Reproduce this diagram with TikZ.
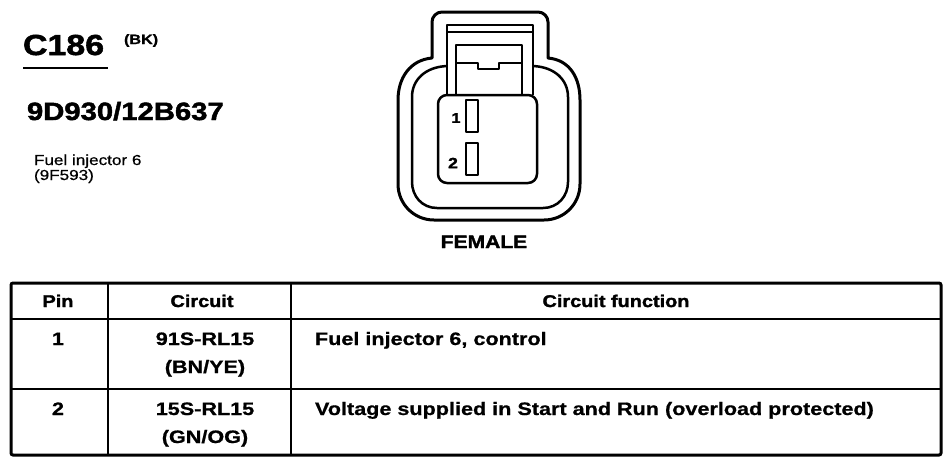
\documentclass[tikz,border=0pt]{standalone}
\usepackage{fontspec}
\setmainfont{Liberation Sans}[FakeStretch=1.18, BoldFont={Liberation Sans}, BoldFeatures={FakeBold=0.6}]
\newfontfamily\bfam{Liberation Sans Bold}[FakeStretch=1.2, BoldFont={Liberation Sans Bold}, BoldFeatures={FakeBold=0.8}]
\newfontfamily\hfam{Liberation Sans Bold}[FakeStretch=1.17, BoldFont={Liberation Sans Bold}, BoldFeatures={FakeBold=1.8}]
\newcommand\fs[1]{\fontsize{#1}{#1}\selectfont}
\begin{document}
\begin{tikzpicture}[x=1pt,y=-1pt,
  outl/.style={line width=3pt, line join=round},
  thin/.style={line width=2.5pt, line join=round},
  tbl/.style={line width=3pt},
  tline/.style={line width=2.6pt},
  txt/.style={inner sep=0pt, outer sep=0pt},
  heavy/.style={txt, font=\hfam\bfseries\fs{#1}},
  bodyb/.style={txt, font=\bfam\bfseries\fs{#1}},
  reg/.style={txt, font=\bfseries\fs{#1}}]
\useasboundingbox[fill=white] (0,0) rectangle (952,467);

% ---- left titles
\node[heavy=29, anchor=base west] (title) at (23,55) {C186};
\draw[line width=2.5pt] (23,68) -- (108,68);
\node[bodyb=13.5, anchor=base west] (bk) at (124,44) {(BK)};
\node[heavy=25, anchor=base west] (part) at (27,120) {9D930/12B637};
\node[reg=14.5, anchor=base west] (desc1) at (34,165) {Fuel injector 6};
\node[reg=14.5, anchor=base west] (desc2) at (34,180) {(9F593)};

% ---- connector
\draw[outl] (432,58) -- (432,22) .. controls (432,16.5) and (436.5,12) .. (442,12)
  -- (538,12) .. controls (543.5,12) and (548,16.5) .. (548,22) -- (548,58)
  .. controls (570,60) and (580,78) .. (580,100) -- (580,184)
  .. controls (580,204) and (564,220) .. (544,220) -- (434,220)
  .. controls (414,220) and (398,204) .. (398,184) -- (398,100)
  .. controls (398,78) and (410,60) .. (432,58) -- cycle;
\draw[thin] (447,66) .. controls (425,67) and (412,80) .. (412,97) -- (412,182)
  .. controls (412,196) and (422,208) .. (437,208) -- (543,208)
  .. controls (558,208) and (568,196) .. (568,182) -- (568,97)
  .. controls (568,80) and (555,67) .. (533,66);
\draw[thin] (447,95) -- (447,25) -- (533,25) -- (533,95);
\draw[thin] (447,32) -- (533,32);
\draw[thin] (456,95) -- (456,45) -- (522,45) -- (522,95);
\draw[thin] (456,63) -- (478,63) -- (478,69) -- (499,69) -- (499,63) -- (522,63);
\draw[thin, fill=white, rounded corners=9pt] (438,95) rectangle (537,183);
\draw[thin] (466,100) rectangle (478,132);
\draw[thin] (466,143) rectangle (478,175);
\node[heavy=14] (p1) at (456,118) {1};
\node[heavy=15] (p2) at (453,163) {2};
\node[heavy=18, anchor=base] (female) at (484,248) {FEMALE};

% ---- table
\draw[tbl, rounded corners=2pt] (11,283) rectangle (941,455);
\draw[tline] (11,319) -- (941,319);
\draw[tline] (11,389) -- (941,389);
\draw[tline] (108,283) -- (108,455);
\draw[tline] (291,283) -- (291,455);

\node[heavy=17, anchor=base] (hpin) at (58,307) {Pin};
\node[heavy=17, anchor=base] (hcirc) at (202,307) {Circuit};
\node[heavy=17, anchor=base] (hfunc) at (616,307) {Circuit function};

\node[bodyb=18, anchor=base] (r1pin) at (58,345) {1};
\node[bodyb=18, anchor=base] (r1c) at (205,345) {91S-RL15};
\node[bodyb=18, anchor=base] (r1col) at (205,373) {(BN/YE)};
\node[bodyb=18, anchor=base west] (r1f) at (315,345) {Fuel injector 6, control};

\node[bodyb=18, anchor=base] (r2pin) at (58,415) {2};
\node[bodyb=18, anchor=base] (r2c) at (205,415) {15S-RL15};
\node[bodyb=18, anchor=base] (r2col) at (205,443) {(GN/OG)};
\node[bodyb=18, anchor=base west] (r2f) at (315,415) {Voltage supplied in Start and Run (overload protected)};
\end{tikzpicture}
\end{document}
